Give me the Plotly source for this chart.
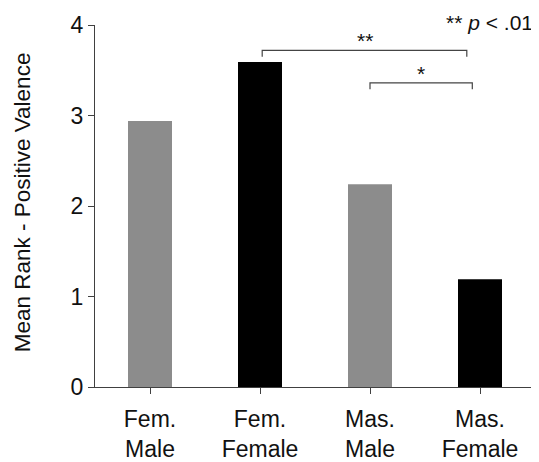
import plotly.graph_objects as go

categories = ["Fem.<br>Male", "Fem.<br>Female", "Mas.<br>Male", "Mas.<br>Female"]
values = [2.94, 3.59, 2.24, 1.19]
bar_colors = ["#8c8c8c", "#000000", "#8c8c8c", "#000000"]
y_ticks = [0, 1, 2, 3, 4]
y_title = "Mean Rank - Positive Valence"
note_text = "** <i>p</i> < .01"
brackets = [  # (from index, to index, level, label)
    (1.02, 2.88, 3.72, "**"),
    (2.0, 2.93, 3.36, "*"),
]

FONT = "Liberation Sans, Arial, sans-serif"
axis_col = "#404040"

fig = go.Figure()
fig.add_trace(go.Bar(
    x=list(range(len(categories))), y=values,
    marker=dict(color=bar_colors, line=dict(width=0)),
    width=0.4,
))

shapes = []
annotations = []
for x0, x1, lev, lab in brackets:
    drop = 0.07
    shapes.append(dict(type="path", xref="x", yref="y",
                       path=f"M {x0},{lev-drop} L {x0},{lev} L {x1},{lev} L {x1},{lev-drop}",
                       line=dict(color="#444444", width=1.2)))
    annotations.append(dict(x=(x0 + x1) / 2, y=lev, xref="x", yref="y", text=lab,
                            showarrow=False, yanchor="bottom", yshift=-4,
                            font=dict(family=FONT, size=21, color="#111111")))

annotations.append(dict(x=0.998, y=1.0, xref="paper", yref="paper", text=note_text,
                        showarrow=False, xanchor="right", yanchor="middle", yshift=3,
                        borderpad=0,
                        font=dict(family=FONT, size=21, color="#111111")))

# y-axis title as a rotated annotation (sits slightly above the plot centre)
annotations.append(dict(x=-0.166, y=0.51, xref="paper", yref="paper", text=y_title,
                        showarrow=False, textangle=-90, xanchor="center", yanchor="middle",
                        font=dict(family=FONT, size=22.5, color="#111111")))

# page body has an 8px margin, so the figure is 8px smaller than the window
fig.update_layout(
    width=531, height=454,
    margin=dict(l=87, r=4, t=17, b=75, autoexpand=False),
    paper_bgcolor="white", plot_bgcolor="white",
    showlegend=False, bargap=0.6,
    shapes=shapes, annotations=annotations,
    font=dict(family=FONT, size=23, color="#111111"),
)
fig.update_xaxes(
    tickvals=list(range(len(categories))), ticktext=categories,
    range=[-0.5, 3.5], showline=True, linecolor=axis_col, linewidth=1,
    ticks="outside", ticklen=6, tickcolor=axis_col, tickson="boundaries",
    ticklabelstandoff=5,
    showgrid=False, zeroline=False, automargin=False,
    tickfont=dict(family=FONT, size=23, color="#111111"),
)
fig.update_yaxes(
    range=[0, 4], tickvals=y_ticks, showline=True, linecolor=axis_col, linewidth=1,
    ticks="outside", ticklen=6, tickcolor=axis_col, showgrid=False, zeroline=False,
    automargin=False,
    tickfont=dict(family=FONT, size=23, color="#111111"),
)

fig.write_html("out.html")
